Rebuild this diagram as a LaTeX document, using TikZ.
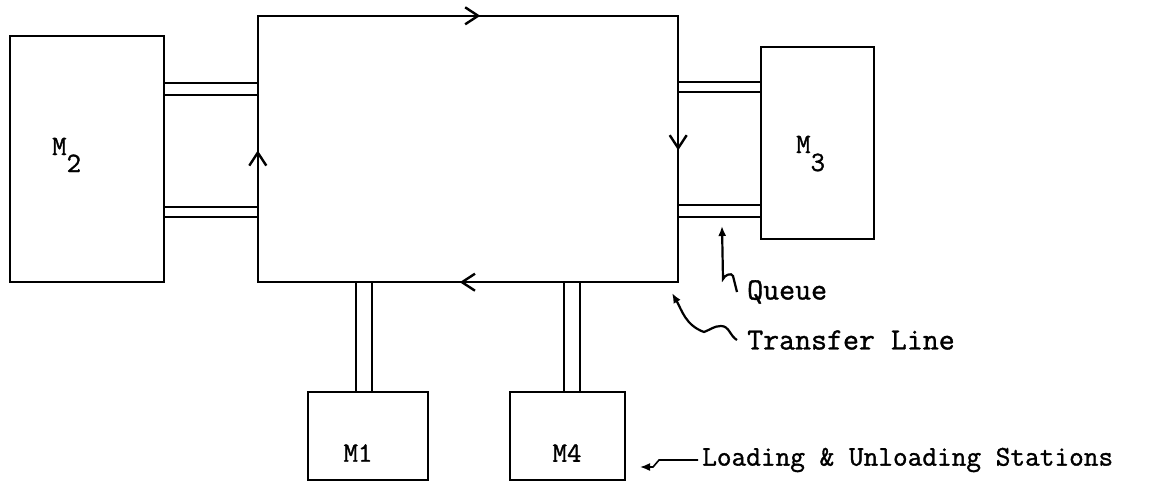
\documentclass[tikz,border=0pt]{standalone}
\usepackage{fontspec}
\setmonofont{Latin Modern Mono}[FakeBold=1.2]
\usetikzlibrary{arrows.meta,decorations.markings}

\begin{document}
\begin{tikzpicture}[x=1pt, y=-1pt,
  every node/.style={inner sep=0pt, font=\ttfamily\fontsize{28}{32}\selectfont},
  machine/.style={draw, line width=2pt},
  queue/.style={draw, line width=1.8pt},
  chev/.tip={Straight Barb[length=13pt, width=17pt, line width=2.4pt]},
  loopline/.style={line width=2pt, line join=miter, postaction={decorate},
    decoration={markings,
      mark=at position 0.162 with {\arrow{chev}},
      mark=at position 0.404 with {\arrow{chev}},
      mark=at position 0.659 with {\arrow{chev}},
      mark=at position 0.902 with {\arrow{chev}}}},
  pointer/.style={-{Latex[length=10pt, width=8pt]}, line width=2.2pt},
  note/.style={anchor=west, font=\ttfamily\fontsize{31}{34}\selectfont}
]
  \useasboundingbox (0,0) rectangle (1164,483);

  \node[machine, minimum width=154pt, minimum height=246pt] (m2) at (87,159) {};
  \node[minimum width=420pt, minimum height=266pt] (loop) at (468,149) {};
  \node[machine, minimum width=113pt, minimum height=192pt] (m3) at (817.5,143) {};
  \node[machine, minimum width=120pt, minimum height=88pt] (m1) at (368,436) {};
  \node[machine, minimum width=115pt, minimum height=88pt] (m4) at (567.5,436) {};

  \node[anchor=base west] (m2txt) at (52,155) {M\raisebox{-17pt}{2}};
  \node[anchor=base west] (m3txt) at (796,153) {M\raisebox{-18pt}{3}};
  \node (m1txt) at (358,453) {M1};
  \node (m4txt) at (567,453) {M4};

  \draw[loopline] (loop.north west) -- (loop.north east) -- (loop.south east)
    -- (loop.south west) -- cycle;

  \node[queue, minimum width=94pt, minimum height=12pt] (qa) at (211,89) {};
  \node[queue, minimum width=94pt, minimum height=10pt] (qb) at (211,212) {};
  \node[queue, minimum width=83pt, minimum height=10pt] (qc) at (719.5,87) {};
  \node[queue, minimum width=83pt, minimum height=12pt] (qd) at (719.5,211) {};
  \node[queue, minimum width=16pt, minimum height=110pt] (qe) at (364,337) {};
  \node[queue, minimum width=16pt, minimum height=110pt] (qf) at (572,337) {};

  \node[note] (qtxt) at (747,292) {Queue};
  \node[note] (ttxt) at (747,340) {Transfer Line};
  \node[note, font=\ttfamily\fontsize{28.5}{32}\selectfont] (ltxt) at (702,460)
    {Loading \& Unloading Stations};

  \coordinate (qtip) at (722,226);
  \coordinate (ttip) at (672,293);
  \coordinate (ltip) at (640,467);

  \draw[pointer] ([xshift=-10pt]qtxt.west) -- (733,276)
    to[out=110, in=70] (723,279) -- (qtip);
  \draw[pointer] ([xshift=-10pt]ttxt.west) to[out=150, in=0] (721,326)
    to[out=180, in=20] (704,332) to[out=160, in=-60] (ttip);
  \draw[pointer, line width=1.6pt] ([xshift=-4pt]ltxt.west) -- (659,460)
    -- (653,467) -- (ltip);
\end{tikzpicture}
\end{document}
